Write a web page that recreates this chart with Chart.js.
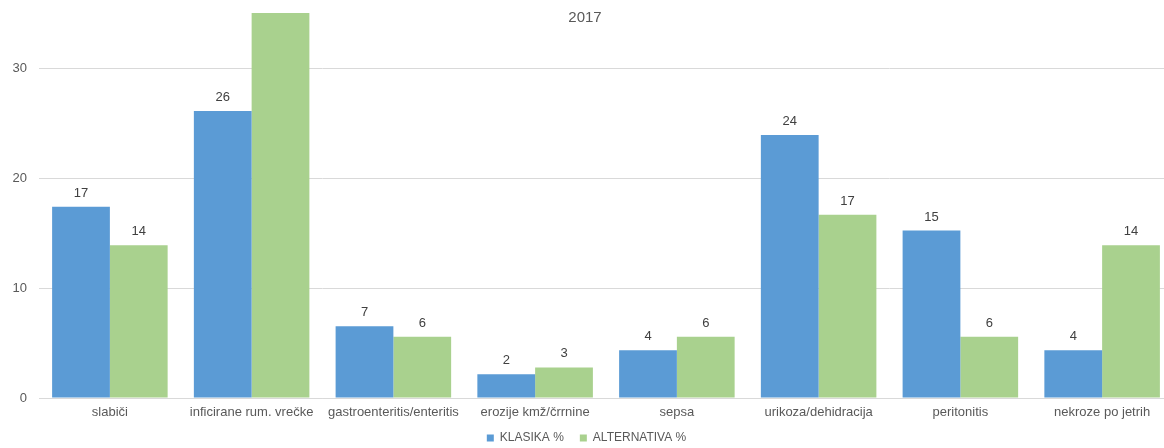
<!DOCTYPE html>
<html>
<head>
<meta charset="utf-8">
<script src="https://cdn.jsdelivr.net/npm/chart.js@4"></script>
<style>
  html, body { margin: 0; padding: 0; background: #fff; overflow: hidden; }
  #wrap { width: 1176px; height: 454px; position: relative; }
</style>
</head>
<body>
<div id="wrap"><canvas id="chart"></canvas></div>
<script>
// podatki
const kategorije = ['slabiči', 'inficirane rum. vrečke', 'gastroenteritis/enteritis', 'erozije kmž/črrnine',
                    'sepsa', 'urikoza/dehidracija', 'peritonitis', 'nekroze po jetrih'];
const klasika = [17.39, 26.09, 6.52, 2.17, 4.35, 23.91, 15.22, 4.35];
const alternativa = [13.89, 36.11, 5.56, 2.78, 5.56, 16.67, 5.56, 13.89];
const yTicks = [0, 10, 20, 30];
const yMax = 35;
const naslov = '2017';

const FONT = '"Liberation Sans", Arial, sans-serif';
const SIVA = '#595959';

// vrednosti nad stolpci + naslov čez graf
const oznake = {
    id: 'oznake',
    afterLayout(chart) {
        // legenda je tesno pod osjo, napisi kategorij naj se ne odrežejo
        chart.scales.x.bottom = chart.scales.x.top + 30;
    },
    afterDatasetsDraw(chart) {
        const ctx = chart.ctx;
        ctx.save();
        ctx.font = '13px ' + FONT;
        ctx.fillStyle = '#404040';
        ctx.textAlign = 'center';
        ctx.textBaseline = 'bottom';
        chart.data.datasets.forEach((ds, i) => {
            chart.getDatasetMeta(i).data.forEach((bar, j) => {
                if (ds.data[j] > yMax) return;
                ctx.fillText(Math.round(ds.data[j]), bar.x, bar.y - 7);
            });
        });
        ctx.font = '15px ' + FONT;
        ctx.fillStyle = SIVA;
        ctx.textBaseline = 'middle';
        ctx.fillText(naslov, 585, 18);
        ctx.restore();
    }
};

new Chart(document.getElementById('chart'), {
    type: 'bar',
    data: {
        labels: kategorije,
        datasets: [
            { label: 'KLASIKA %', data: klasika, backgroundColor: '#5B9BD5' },
            { label: 'ALTERNATIVA %', data: alternativa, backgroundColor: '#A9D18E' }
        ]
    },
    options: {
        responsive: true,
        maintainAspectRatio: false,
        animation: false,
        layout: { padding: { top: 13, right: 3, left: 0, bottom: 0 } },
        datasets: { bar: { categoryPercentage: 0.815, barPercentage: 1 } },
        plugins: {
            legend: {
                position: 'bottom',
                labels: { boxWidth: 7, boxHeight: 7, padding: 16, color: SIVA, font: { family: FONT, size: 12 } }
            },
            tooltip: { enabled: false }
        },
        scales: {
            x: {
                grid: { display: false, drawTicks: false },
                border: { color: '#D9D9D9' },
                ticks: { color: SIVA, font: { family: FONT, size: 13 }, maxRotation: 0, autoSkip: false, padding: 7 },
                afterFit: s => { s.height = 18; }
            },
            y: {
                min: 0,
                max: yMax,
                grid: { color: '#D9D9D9', drawTicks: false },
                border: { display: false },
                ticks: { color: SIVA, font: { family: FONT, size: 13 }, padding: 12 },
                afterBuildTicks: s => { s.ticks = yTicks.map(v => ({ value: v })); },
                afterFit: s => { s.width = 39; s.paddingTop = 0; s.paddingBottom = 0; }
            }
        }
    },
    plugins: [oznake]
});
</script>
</body>
</html>
